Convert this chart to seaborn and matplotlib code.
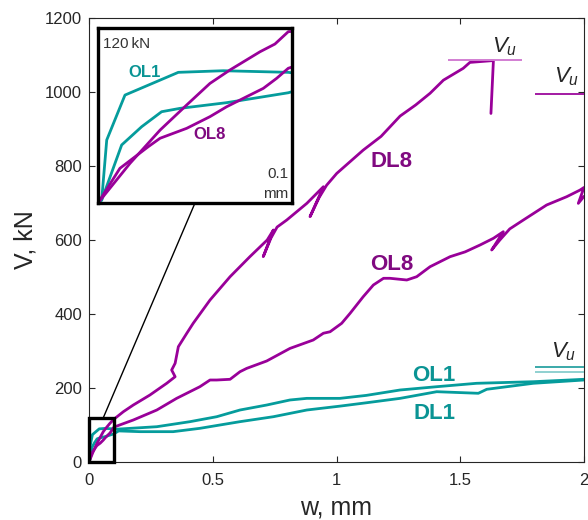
import numpy as np
import pandas as pd
import matplotlib
matplotlib.use('Agg')
import matplotlib.pyplot as plt
import seaborn as sns
from matplotlib.patches import Rectangle, ConnectionPatch

# ---------------- data ----------------
ol1_w = [0, 0.0019, 0.0045, 0.0139, 0.0414, 0.0646, 0.0981, 0.105, 0.274, 0.408, 0.516,
         0.61, 0.718, 0.812, 0.88, 1.014, 1.12, 1.257, 1.405, 1.566, 1.795, 2.0]
ol1_v = [0, 2, 43.2, 74, 89.6, 90.7, 89.6, 88.4, 95.4, 109, 122.4,
         140.5, 154, 167.6, 172, 172, 180, 194.6, 203.5, 212.7, 217, 223.5]

dl1_w = [0, 0.0019, 0.0122, 0.0225, 0.0328, 0.0423, 0.0663, 0.0981, 0.12, 0.206, 0.34,
         0.448, 0.61, 0.745, 0.88, 1.014, 1.12, 1.257, 1.405, 1.573, 1.607, 1.795, 2.0]
dl1_v = [0, 2, 39.8, 52.3, 62.6, 64.9, 68.8, 75.6, 84, 82, 82,
         91, 109, 122.4, 140.5, 151, 160, 172, 190, 185.7, 196.5, 212.7, 221.6]

ol8_w = [0, 0.0113, 0.0259, 0.032, 0.0457, 0.0577, 0.0663, 0.0766, 0.0852, 0.0921, 0.0981,
         0.105, 0.179, 0.274, 0.354, 0.448, 0.489, 0.516, 0.570, 0.61, 0.637, 0.718, 0.812,
         0.906, 0.947, 0.974, 1.021, 1.055, 1.108, 1.149, 1.19, 1.216, 1.284, 1.324, 1.378,
         1.459, 1.52, 1.58, 1.634, 1.674, 1.627, 1.66, 1.70, 1.755, 1.849, 1.93, 1.984,
         2.0, 1.977, 2.0]
ol8_v = [0, 23.8, 38.6, 44.4, 51.2, 59.2, 66, 72.9, 78.6, 85.5, 92.4,
         95.4, 113.5, 140.5, 172, 203.5, 221.6, 221.6, 223.5, 244, 253, 273, 307,
         329.7, 348, 352, 374.9, 401.9, 446.8, 478.4, 496.5, 496.5, 491.9, 500.8, 527.8,
         554.9, 568, 586.5, 604.6, 622.4, 573, 600, 630, 654, 694.6, 717, 735,
         742, 699, 718]

dl8_w = [0, 0.0165, 0.032, 0.0457, 0.0577, 0.068, 0.0835, 0.0912, 0.0981,
         0.105, 0.139, 0.179, 0.246, 0.314, 0.348, 0.334, 0.348, 0.361, 0.395, 0.421,
         0.489, 0.570, 0.650, 0.72, 0.745, 0.704, 0.735, 0.76, 0.799, 0.88, 0.947, 0.893,
         0.93, 0.96, 1.001, 1.108, 1.18, 1.257, 1.32, 1.378, 1.432, 1.512, 1.539, 1.634, 1.624]
dl8_v = [0, 27.2, 50, 67.2, 82, 91.2, 103.7, 109, 117.5,
         118, 136, 154, 181, 212.7, 230.5, 248.6, 266.8, 311.6, 347.8, 374.9,
         437.8, 500.8, 554.9, 600, 627, 555, 605, 635, 654, 699, 744, 663,
         715, 748, 780, 843, 880, 935, 965, 996.5, 1032, 1064, 1080, 1085, 942]

series_names = ['OL1', 'DL1', 'OL8', 'DL8']

# ultimate loads V_u (value, from w, to w, colour)
vu_values = [1086, 994, 256, 244]
vu_from = [1.452, 1.80, 1.80, 1.80]
vu_to = [1.748, 2.0, 2.0, 2.0]
vu_colors = ['#d27ed2', '#a31aa3', '#3aa9a9', '#8fd0d0']

x_ticks = [0, 0.5, 1, 1.5, 2]
x_ticklabels = ['0', '0.5', '1', '1.5', '2']
y_ticks = [0, 200, 400, 600, 800, 1000, 1200]

inset_xmax = 0.1
inset_ymax = 120

# ---------------- style ----------------
sns.set_style('ticks')
plt.rcParams['font.family'] = ['Liberation Sans', 'DejaVu Sans']
plt.rcParams['mathtext.fontset'] = 'custom'
plt.rcParams['mathtext.it'] = 'Liberation Sans:italic'
plt.rcParams['mathtext.rm'] = 'Liberation Sans'

teal = '#059c9c'
purple = '#990099'
teal_txt = '#0a9494'
purple_txt = '#800a80'
dark = '#262626'

frames = []
for name, w, v in [('OL1', ol1_w, ol1_v), ('DL1', dl1_w, dl1_v),
                   ('OL8', ol8_w, ol8_v), ('DL8', dl8_w, dl8_v)]:
    frames.append(pd.DataFrame({'series': name, 'w': w, 'V': v}))
df = pd.concat(frames, ignore_index=True)
palette = {'OL1': teal, 'DL1': teal, 'OL8': purple, 'DL8': purple}

fig = plt.figure(figsize=(5.88, 5.20), dpi=100)
ax = fig.add_axes([89 / 588, 58 / 520, 495 / 588, 444 / 520])

sns.lineplot(data=df, x='w', y='V', hue='series', hue_order=series_names,
             palette=palette, sort=False, estimator=None, lw=2.0, ax=ax,
             legend=False)

ax.set_xlim(0, 2)
ax.set_ylim(0, 1200)
ax.set_xticks(x_ticks)
ax.set_xticklabels(x_ticklabels)
ax.set_yticks(y_ticks)
ax.tick_params(direction='in', top=True, right=True, length=4, width=0.8,
               labelsize=12, colors=dark)
ax.tick_params(axis='x', pad=8)
ax.tick_params(axis='y', pad=5)
for s in ax.spines.values():
    s.set_linewidth(0.8)
    s.set_color(dark)
    s.set_visible(True)
ax.set_xlabel('w, mm', fontsize=18, color=dark, labelpad=5)
ax.set_ylabel('V, kN', fontsize=18, color=dark, labelpad=5)

# V_u lines
ax.hlines(vu_values, vu_from, vu_to, colors=vu_colors, lw=1.4, zorder=3)
ax.text(1.681, 1122, r'$V_u$', fontsize=16, color=dark, ha='center', va='center')
ax.text(1.93, 1040, r'$V_u$', fontsize=16, color=dark, ha='center', va='center')
ax.text(1.916, 297, r'$V_u$', fontsize=16, color=dark, ha='center', va='center')

# curve labels
ax.text(1.223, 812, 'DL8', fontsize=16, fontweight='bold', color=purple_txt, ha='center', va='center')
ax.text(1.223, 535, 'OL8', fontsize=16, fontweight='bold', color=purple_txt, ha='center', va='center')
ax.text(1.394, 235, 'OL1', fontsize=16, fontweight='bold', color=teal_txt, ha='center', va='center')
ax.text(1.394, 132, 'DL1', fontsize=16, fontweight='bold', color=teal_txt, ha='center', va='center')

# zoom box in main axes
rect = Rectangle((0, 0), inset_xmax, inset_ymax, fill=False, lw=2.4, ec='black',
                 clip_on=False, zorder=6)
ax.add_patch(rect)

# inset
axins = fig.add_axes([98 / 588, (520 - 203) / 520, 194 / 588, 175 / 520])
sns.lineplot(data=df, x='w', y='V', hue='series', hue_order=series_names,
             palette=palette, sort=False, estimator=None, lw=2.0, ax=axins,
             legend=False)
axins.set_xlim(0, inset_xmax)
axins.set_ylim(0, inset_ymax)
axins.set_xticks([])
axins.set_yticks([])
axins.set_xlabel('')
axins.set_ylabel('')
for s in axins.spines.values():
    s.set_linewidth(2.4)
    s.set_color('black')
    s.set_visible(True)
axins.text(0.027, 0.91, '120\u2009kN', transform=axins.transAxes, fontsize=11,
           color='#333333', ha='left', va='center')
axins.text(0.982, 0.166, '0.1', transform=axins.transAxes, fontsize=11,
           color='#333333', ha='right', va='center')
axins.text(0.982, 0.05, 'mm', transform=axins.transAxes, fontsize=11,
           color='#333333', ha='right', va='center')
axins.text(0.242, 0.743, 'OL1', transform=axins.transAxes, fontsize=12,
           fontweight='bold', color=teal_txt, ha='center', va='center')
axins.text(0.577, 0.389, 'OL8', transform=axins.transAxes, fontsize=12,
           fontweight='bold', color=purple_txt, ha='center', va='center')

con = ConnectionPatch(xyA=(0.058, inset_ymax), coordsA=ax.transData,
                      xyB=(0.5, 0), coordsB=axins.transAxes,
                      color='black', lw=1.0)
fig.add_artist(con)

fig.savefig('out.png', dpi=100)
